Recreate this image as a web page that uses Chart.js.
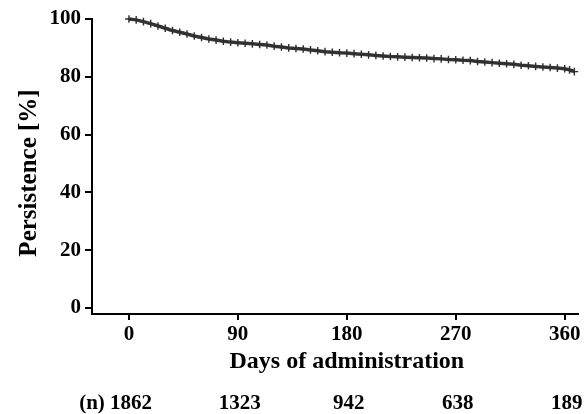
<!DOCTYPE html>
<html>
<head>
<meta charset="utf-8">
<script src="https://cdn.jsdelivr.net/npm/chart.js@4/dist/chart.umd.min.js"></script>
<style>
html,body{margin:0;padding:0;background:#fff;}
canvas{display:block;}
</style>
</head>
<body>
<canvas id="c" width="584" height="414"></canvas>
<script>
// ---- data ----
const days = [0,6,12,18,24,30,36,42,48,54,60,66,72,78,84,90,96,102,108,114,120,126,132,138,144,150,156,162,168,174,180,186,192,198,204,210,216,222,228,234,240,246,252,258,264,270,276,282,288,294,300,306,312,318,324,330,336,342,348,354,360,364,368];
const persistence = [100.0,99.7,99.1,98.4,97.6,96.8,96.0,95.4,94.8,94.1,93.6,93.1,92.7,92.3,92.0,91.8,91.6,91.4,91.2,91.0,90.6,90.3,90.0,89.8,89.6,89.3,89.0,88.7,88.5,88.3,88.2,88.0,87.8,87.6,87.4,87.2,87.0,86.9,86.8,86.7,86.6,86.5,86.3,86.2,86.0,85.9,85.7,85.6,85.3,85.1,84.9,84.7,84.5,84.3,84.0,83.8,83.6,83.4,83.2,83.0,82.8,82.4,81.8];
const xTicks = [0,90,180,270,360];
const yTicks = [0,20,40,60,80,100];
const nDays = [0,90,180,270,360];
const nAtRisk = [1862,1323,942,638,189];
const nLabel = '(n)';
const xTitle = 'Days of administration';
const yTitle = 'Persistence [%]';

const FONT = '"Liberation Serif","Times New Roman",serif';

const textPlugin = {
  id: 'textRows',
  afterDraw(chart) {
    const ctx = chart.ctx;
    const xs = chart.scales.x;
    const ys = chart.scales.y;
    ctx.save();
    ctx.fillStyle = '#000';
    // x title, centred over the tick range
    ctx.font = 'bold 24px ' + FONT;
    ctx.textAlign = 'center';
    ctx.textBaseline = 'alphabetic';
    const xMid = (xs.getPixelForValue(xTicks[0]) + xs.getPixelForValue(xTicks[xTicks.length - 1])) / 2;
    ctx.fillText(xTitle, xMid, 368);
    // y title, rotated
    ctx.save();
    ctx.font = 'bold 25px ' + FONT;
    ctx.translate(36, 173);
    ctx.rotate(-Math.PI / 2);
    ctx.fillText(yTitle, 0, 0);
    ctx.restore();
    // (n) row
    ctx.font = 'bold 21px ' + FONT;
    const y = 409;
    ctx.fillText(nLabel, xs.left, y);
    nDays.forEach((d, i) => {
      ctx.fillText(String(nAtRisk[i]), xs.getPixelForValue(d) + 2, y);
    });
    ctx.restore();
  }
};

new Chart(document.getElementById('c'), {
  type: 'line',
  data: {
    datasets: [{
      data: days.map((d, i) => ({x: d, y: persistence[i]})),
      borderColor: '#3a3a3a',
      borderWidth: 3.5,
      pointStyle: 'cross',
      pointRadius: 3.8,
      pointBorderWidth: 1.4,
      pointBorderColor: '#2e2e2e',
      pointBackgroundColor: '#2e2e2e',
      tension: 0,
      clip: false
    }]
  },
  options: {
    responsive: false,
    animation: false,
    devicePixelRatio: 1,
    layout: { padding: { top: 19, right: 6, bottom: 0, left: 0 } },
    plugins: { legend: { display: false }, tooltip: { enabled: false } },
    scales: {
      x: {
        type: 'linear',
        min: -30.5,
        max: 371,
        afterBuildTicks: s => { s.ticks = xTicks.map(v => ({value: v})); },
        afterFit: s => { s.height = 100; },
        grid: { drawOnChartArea: false, drawTicks: true, tickLength: 6, color: '#000', lineWidth: 2 },
        border: { display: true, color: '#000', width: 2 },
        ticks: { color: '#000', font: { family: FONT, size: 21, weight: 'bold' }, padding: 2, maxRotation: 0 },
        title: { display: false }
      },
      y: {
        type: 'linear',
        min: -2.1,
        max: 100,
        afterBuildTicks: s => { s.ticks = yTicks.map(v => ({value: v})); },
        afterFit: s => { s.width = 92; },
        grid: { drawOnChartArea: false, drawTicks: true, tickLength: 7, color: '#000', lineWidth: 2 },
        border: { display: true, color: '#000', width: 2 },
        ticks: { color: '#000', font: { family: FONT, size: 21, weight: 'bold' }, padding: 4 },
        title: { display: false }
      }
    }
  },
  plugins: [textPlugin]
});
</script>
</body>
</html>
